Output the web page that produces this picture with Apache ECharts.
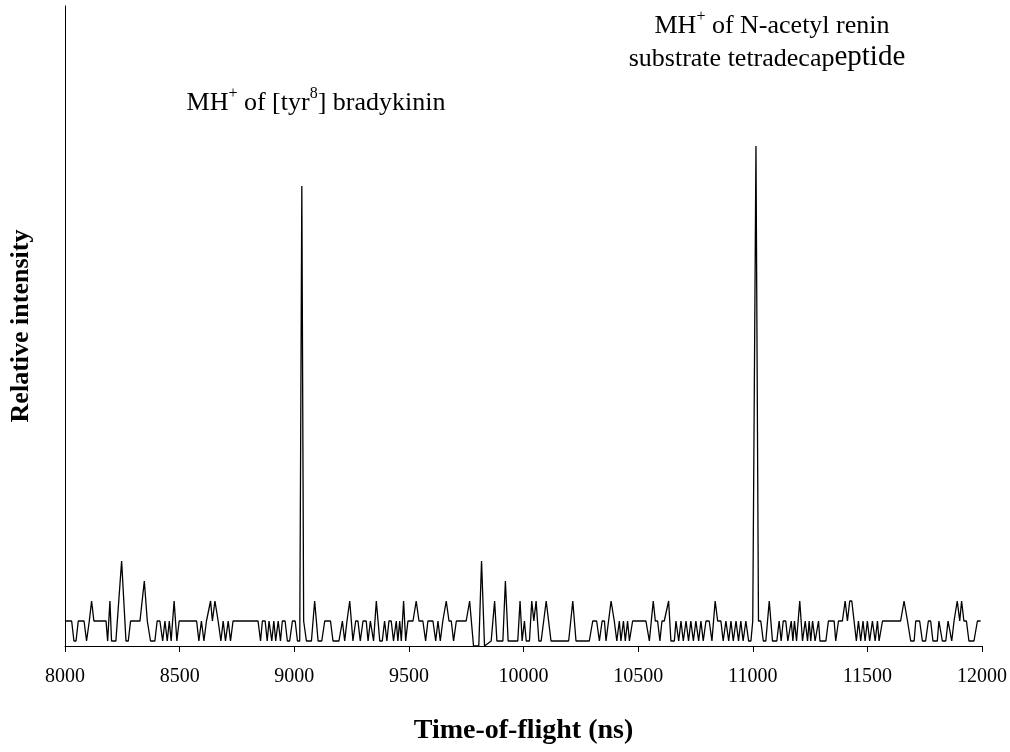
<!DOCTYPE html>
<html>
<head>
<meta charset="utf-8">
<script src="https://cdn.jsdelivr.net/npm/echarts@6/dist/echarts.min.js"></script>
<style>
  html, body { margin: 0; padding: 0; background: #fff; }
  #container { width: 1010px; height: 752px; }
</style>
</head>
<body>
<div id="container"></div>
<script>
// time-of-flight (ns) of each vertex of the trace
var tofNs = [
  8000, 8029, 8039, 8048, 8058, 8083, 8094, 8106, 8116, 8126, 8179, 8186, 8196, 8203, 8222, 8247,
  8266, 8276, 8286, 8327, 8346, 8359, 8365, 8373, 8392, 8402, 8414, 8426, 8436, 8446, 8455, 8463,
  8476, 8488, 8498, 8574, 8584, 8595, 8606, 8617, 8635, 8643, 8654, 8668, 8680, 8690, 8700, 8712,
  8722, 8733, 8842, 8853, 8861, 8873, 8882, 8890, 8902, 8911, 8919, 8930, 8940, 8948, 8960, 8970,
  8980, 8992, 9004, 9014, 9024, 9033, 9041, 9053, 9075, 9089, 9104, 9120, 9133, 9158, 9169, 9195,
  9210, 9220, 9230, 9242, 9256, 9268, 9278, 9288, 9300, 9314, 9322, 9332, 9346, 9358, 9373, 9384,
  9394, 9404, 9413, 9423, 9433, 9445, 9452, 9460, 9467, 9477, 9486, 9496, 9518, 9532, 9544, 9561,
  9573, 9583, 9605, 9617, 9627, 9637, 9648, 9663, 9675, 9685, 9695, 9707, 9750, 9765, 9782, 9805,
  9817, 9830, 9859, 9874, 9884, 9910, 9921, 9933, 9975, 9985, 9994, 10004, 10012, 10026, 10036, 10045,
  10055, 10067, 10077, 10099, 10120, 10197, 10215, 10229, 10287, 10302, 10319, 10331, 10343, 10353, 10360, 10382,
  10396, 10407, 10418, 10425, 10436, 10444, 10454, 10462, 10476, 10534, 10549, 10566, 10575, 10585, 10595, 10604,
  10614, 10633, 10643, 10658, 10665, 10677, 10687, 10697, 10709, 10720, 10730, 10741, 10752, 10764, 10774, 10784,
  10796, 10810, 10822, 10836, 10847, 10861, 10871, 10883, 10895, 10905, 10915, 10927, 10938, 10948, 10958, 10970,
  10982, 10992, 11000, 11006, 11014, 11025, 11035, 11046, 11057, 11072, 11086, 11105, 11115, 11124, 11133, 11144,
  11153, 11160, 11168, 11175, 11182, 11191, 11205, 11217, 11229, 11239, 11246, 11253, 11261, 11272, 11278, 11287,
  11293, 11319, 11330, 11355, 11362, 11374, 11391, 11403, 11413, 11423, 11432, 11442, 11452, 11461, 11471, 11481,
  11490, 11500, 11510, 11522, 11534, 11544, 11551, 11566, 11645, 11660, 11675, 11689, 11704, 11711, 11728, 11740,
  11754, 11766, 11776, 11786, 11805, 11812, 11827, 11842, 11852, 11859, 11868, 11878, 11892, 11903, 11911, 11921,
  11932, 11943, 11965, 11980, 11994
];

// relative intensity at each vertex (arbitrary units)
var intensity = [
  5, 5, 1, 1, 5, 5, 1, 5, 9, 5, 5, 1, 9, 1, 1, 17,
  1, 1, 5, 5, 13, 5, 5, 1, 1, 5, 5, 1, 5, 1, 5, 1,
  9, 1, 5, 5, 1, 5, 1, 5, 9, 5, 9, 5, 1, 5, 1, 5,
  1, 5, 5, 1, 5, 5, 1, 5, 1, 5, 1, 5, 1, 5, 5, 1,
  1, 5, 5, 1, 1, 92, 5, 1, 1, 9, 1, 1, 5, 5, 1, 1,
  5, 1, 5, 9, 1, 5, 5, 1, 5, 5, 1, 5, 1, 9, 1, 1,
  5, 1, 5, 5, 1, 5, 1, 5, 1, 9, 1, 5, 5, 9, 5, 5,
  1, 5, 5, 1, 5, 1, 5, 9, 5, 5, 1, 5, 5, 9, 0, 0,
  17, 0, 1, 9, 1, 1, 13, 1, 1, 9, 1, 5, 1, 1, 9, 5,
  9, 1, 1, 9, 1, 1, 9, 1, 1, 5, 5, 1, 5, 5, 1, 9,
  5, 1, 5, 1, 5, 1, 5, 1, 5, 5, 1, 9, 5, 5, 1, 5,
  5, 9, 1, 1, 5, 1, 5, 1, 5, 1, 5, 1, 5, 1, 5, 1,
  5, 5, 1, 9, 5, 5, 1, 5, 1, 5, 1, 5, 1, 5, 1, 5,
  1, 1, 5, 5, 100, 5, 5, 1, 1, 9, 1, 1, 5, 1, 5, 5,
  1, 1, 5, 1, 5, 1, 9, 1, 5, 1, 5, 1, 5, 1, 1, 5,
  1, 1, 5, 5, 1, 5, 5, 9, 5, 9, 9, 5, 1, 5, 1, 5,
  1, 5, 1, 5, 1, 5, 1, 5, 5, 9, 5, 1, 1, 5, 5, 1,
  1, 5, 5, 1, 1, 5, 1, 1, 5, 5, 1, 5, 9, 5, 9, 5,
  5, 1, 1, 5, 5
];

var xTicks = { min: 8000, max: 12000, step: 500 };

var trace = tofNs.map(function (t, i) { return [t, intensity[i]]; });

var dom = document.getElementById('container');
var myChart = echarts.init(dom, null, { renderer: 'canvas' });

var serif = '"Liberation Serif", "Times New Roman", serif';

var option = {
  animation: false,
  backgroundColor: '#ffffff',
  grid: {
    left: 65,
    right: 27,
    top: 6,
    bottom: 106
  },
  xAxis: {
    type: 'value',
    min: xTicks.min,
    max: xTicks.max,
    interval: xTicks.step,
    name: 'Time-of-flight (ns)',
    nameLocation: 'middle',
    nameGap: 71,
    nameTextStyle: { fontFamily: serif, fontWeight: 'bold', fontSize: 28, color: '#000' },
    axisLine: { lineStyle: { color: '#000', width: 1 } },
    axisTick: { show: true, length: 6, lineStyle: { color: '#000' } },
    axisLabel: {
      margin: 21, fontFamily: serif, fontSize: 20, color: '#000',
      formatter: function (v) { return String(v); }
    },
    splitLine: { show: false }
  },
  yAxis: {
    type: 'value',
    min: 0,
    max: 128,
    name: 'Relative intensity',
    nameLocation: 'middle',
    nameGap: 31,
    nameTextStyle: { fontFamily: serif, fontWeight: 'bold', fontSize: 26, color: '#000' },
    axisLine: { show: true, lineStyle: { color: '#000', width: 1 } },
    axisTick: { show: false },
    axisLabel: { show: false },
    splitLine: { show: false }
  },
  graphic: [
    {
      type: 'text',
      x: 316,
      y: 101,
      style: {
        text: '{a|MH}{s|+}{a| of [tyr}{s|8}{a|] bradykinin}',
        align: 'center',
        verticalAlign: 'middle',
        rich: {
          a: { fontFamily: serif, fontSize: 26, color: '#000', lineHeight: 30, verticalAlign: 'bottom' },
          s: { fontFamily: serif, fontSize: 16, color: '#000', lineHeight: 30, verticalAlign: 'top' }
        }
      }
    },
    {
      type: 'text',
      x: 772,
      y: 24,
      style: {
        text: '{a|MH}{s|+}{a| of N-acetyl renin}',
        align: 'center',
        verticalAlign: 'middle',
        rich: {
          a: { fontFamily: serif, fontSize: 26, color: '#000', lineHeight: 30, verticalAlign: 'bottom' },
          s: { fontFamily: serif, fontSize: 16, color: '#000', lineHeight: 30, verticalAlign: 'top' }
        }
      }
    },
    {
      type: 'text',
      x: 767,
      y: 56,
      style: {
        text: '{a|substrate tetradecap}{b|eptide}',
        align: 'center',
        verticalAlign: 'middle',
        rich: {
          a: { fontFamily: serif, fontSize: 26, color: '#000', lineHeight: 32, verticalAlign: 'bottom' },
          b: { fontFamily: serif, fontSize: 29, color: '#000', lineHeight: 32, verticalAlign: 'bottom' }
        }
      }
    }
  ],
  series: [
    {
      type: 'line',
      data: trace,
      showSymbol: false,
      symbol: 'none',
      lineStyle: { color: '#000', width: 1.3 },
      emphasis: { disabled: true }
    }
  ]
};

myChart.setOption(option);
window.addEventListener('resize', myChart.resize);
</script>
</body>
</html>
